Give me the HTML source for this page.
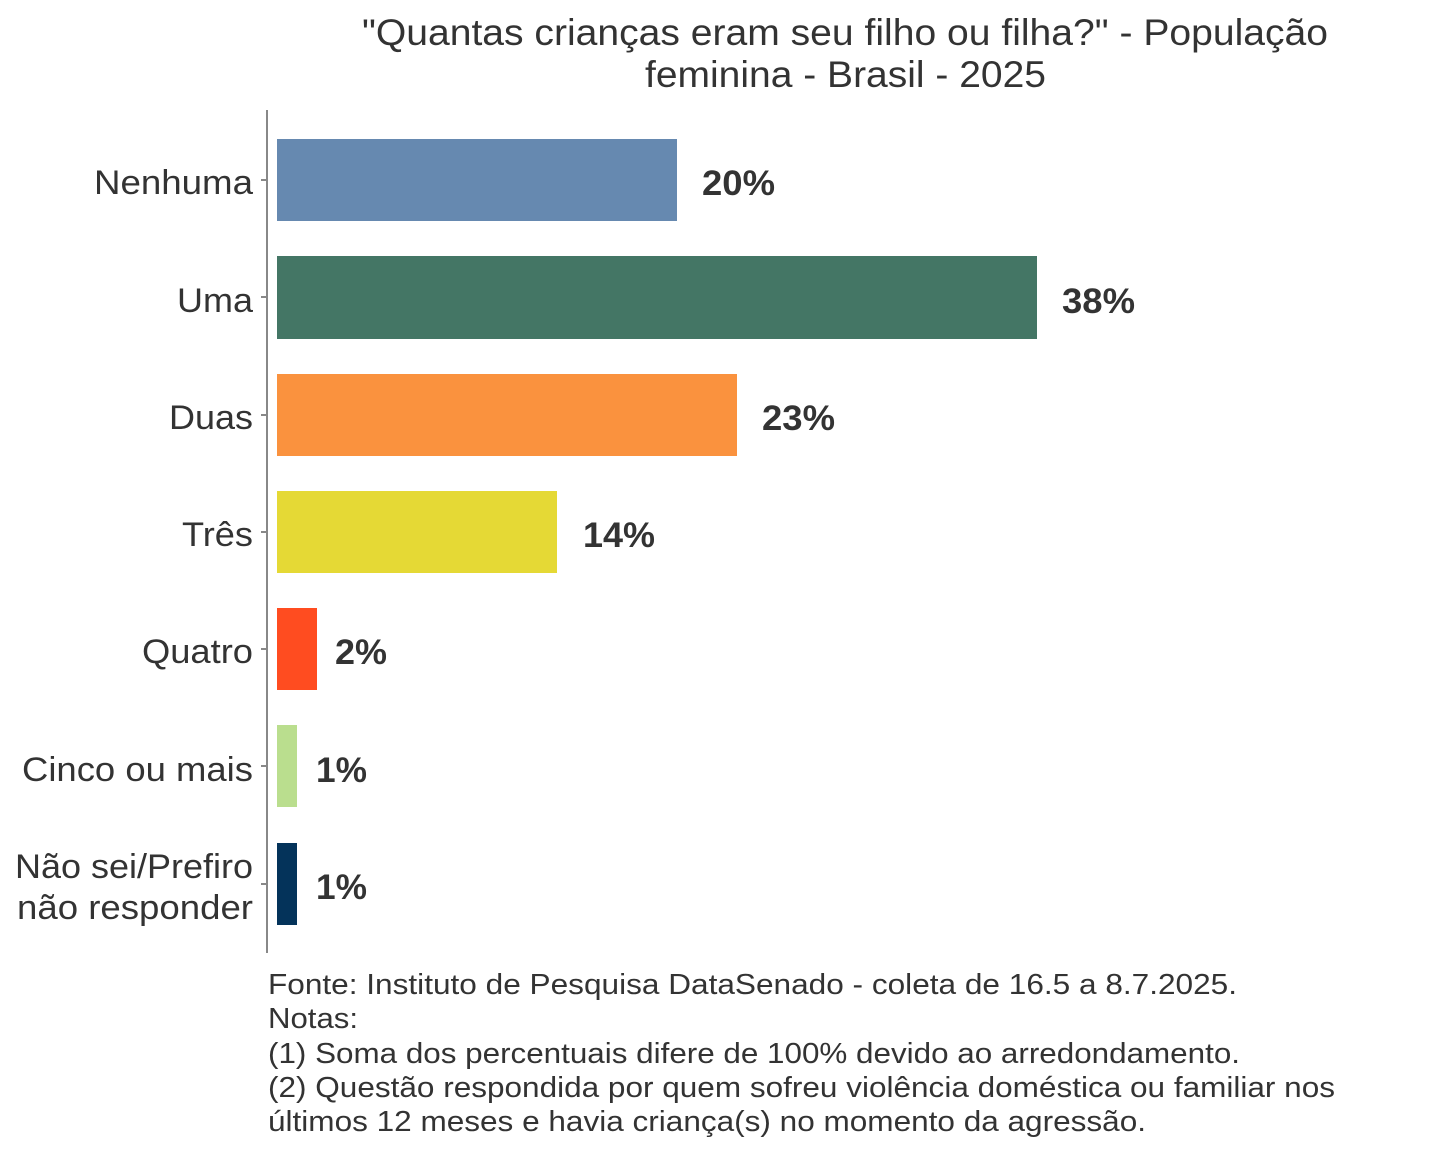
<!DOCTYPE html>
<html><head><meta charset="utf-8"><style>
html,body{margin:0;padding:0;background:#fff;}
svg text{font-family:"Liberation Sans",Arial,sans-serif;fill:#333;}
</style></head><body>
<svg width="1440" height="1152" viewBox="0 0 1440 1152" xmlns="http://www.w3.org/2000/svg">
<rect width="1440" height="1152" fill="#fff"/>
<text x="362" y="45" font-size="37" textLength="966" lengthAdjust="spacingAndGlyphs">"Quantas crianças eram seu filho ou filha?" - População</text>
<text x="645" y="87" font-size="37" textLength="401" lengthAdjust="spacingAndGlyphs">feminina - Brasil - 2025</text>
<line x1="267" y1="110" x2="267" y2="953" stroke="#888" stroke-width="2"/>
<g stroke="#888" stroke-width="2">
<line x1="261" y1="180" x2="267" y2="180"/><line x1="261" y1="297" x2="267" y2="297"/>
<line x1="261" y1="415" x2="267" y2="415"/><line x1="261" y1="532" x2="267" y2="532"/>
<line x1="261" y1="649" x2="267" y2="649"/><line x1="261" y1="766" x2="267" y2="766"/>
<line x1="261" y1="884" x2="267" y2="884"/></g>
<rect x="277" y="139" width="400" height="82" fill="#6689b0"/>
<rect x="277" y="256" width="760" height="83" fill="#447665"/>
<rect x="277" y="374" width="460" height="82" fill="#fa923e"/>
<rect x="277" y="491" width="280" height="82" fill="#e5d935"/>
<rect x="277" y="608" width="40" height="82" fill="#ff4c20"/>
<rect x="277" y="725" width="20" height="82" fill="#bade8e"/>
<rect x="277" y="843" width="20" height="82" fill="#04335a"/>
<g font-size="34">
<text x="94" y="194" textLength="159" lengthAdjust="spacingAndGlyphs">Nenhuma</text>
<text x="177" y="312" textLength="76" lengthAdjust="spacingAndGlyphs">Uma</text>
<text x="169" y="429" textLength="84" lengthAdjust="spacingAndGlyphs">Duas</text>
<text x="182" y="546" textLength="71" lengthAdjust="spacingAndGlyphs">Três</text>
<text x="142" y="663" textLength="111" lengthAdjust="spacingAndGlyphs">Quatro</text>
<text x="22" y="781" textLength="231" lengthAdjust="spacingAndGlyphs">Cinco ou mais</text>
<text x="15" y="878" textLength="238" lengthAdjust="spacingAndGlyphs">Não sei/Prefiro</text>
<text x="17" y="919" textLength="236" lengthAdjust="spacingAndGlyphs">não responder</text>
</g>
<g font-size="35" font-weight="bold">
<text x="702" y="195" textLength="73" lengthAdjust="spacingAndGlyphs">20%</text>
<text x="1062" y="313" textLength="73" lengthAdjust="spacingAndGlyphs">38%</text>
<text x="762" y="430" textLength="73" lengthAdjust="spacingAndGlyphs">23%</text>
<text x="583" y="547" textLength="72" lengthAdjust="spacingAndGlyphs">14%</text>
<text x="335" y="664" textLength="52" lengthAdjust="spacingAndGlyphs">2%</text>
<text x="316" y="782" textLength="51" lengthAdjust="spacingAndGlyphs">1%</text>
<text x="316" y="899" textLength="51" lengthAdjust="spacingAndGlyphs">1%</text>
</g>
<g font-size="29">
<text x="268" y="994" textLength="969" lengthAdjust="spacingAndGlyphs">Fonte: Instituto de Pesquisa DataSenado - coleta de 16.5 a 8.7.2025.</text>
<text x="268" y="1028" textLength="90" lengthAdjust="spacingAndGlyphs">Notas:</text>
<text x="268" y="1063" textLength="972" lengthAdjust="spacingAndGlyphs">(1) Soma dos percentuais difere de 100% devido ao arredondamento.</text>
<text x="268" y="1097" textLength="1067" lengthAdjust="spacingAndGlyphs">(2) Questão respondida por quem sofreu violência doméstica ou familiar nos</text>
<text x="268" y="1131" textLength="878" lengthAdjust="spacingAndGlyphs">últimos 12 meses e havia criança(s) no momento da agressão.</text>
</g>
</svg>
</body></html>
